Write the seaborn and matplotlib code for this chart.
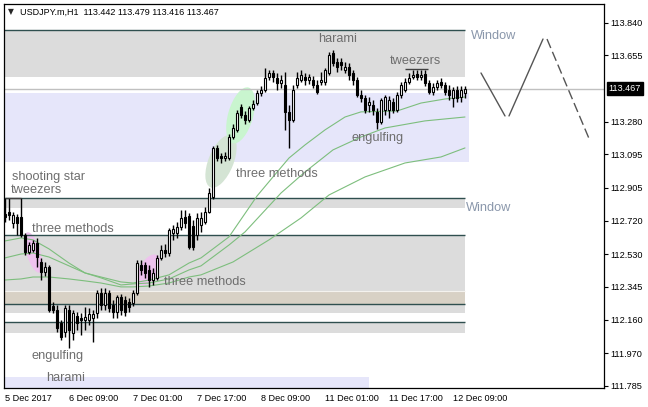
import numpy as np
import matplotlib
matplotlib.use("Agg")
import matplotlib.pyplot as plt
import seaborn as sns
from matplotlib.patches import Ellipse, Rectangle
from matplotlib.transforms import IdentityTransform, blended_transform_factory

# ---------------- data ----------------
opens = [
112.758, 112.769, 112.707, 112.741, 112.741, 112.639, 112.543, 112.554, 112.594, 112.486,
112.430, 112.458, 112.237, 112.215, 112.141, 112.090, 112.215, 112.085, 112.181, 112.169,
112.158, 112.158, 112.169, 112.198, 112.311, 112.243, 112.311, 112.243, 112.203, 112.288,
112.271, 112.260, 112.254, 112.311, 112.469, 112.469, 112.441, 112.384, 112.396, 112.509,
112.554, 112.537, 112.650, 112.650, 112.684, 112.741, 112.746, 112.690, 112.639, 112.695,
112.712, 112.769, 112.854, 113.131, 113.086, 113.074, 113.074, 113.193, 113.233, 113.363,
113.318, 113.289, 113.357, 113.385, 113.442, 113.459, 113.532, 113.555, 113.527, 113.499,
113.487, 113.335, 113.289, 113.487, 113.516, 113.532, 113.516, 113.516, 113.487, 113.504,
113.504, 113.555, 113.668, 113.617, 113.617, 113.572, 113.589, 113.555, 113.516, 113.431,
113.414, 113.374, 113.374, 113.335, 113.278, 113.346, 113.346, 113.391, 113.346, 113.431,
113.459, 113.504, 113.532, 113.550, 113.532, 113.550, 113.499, 113.448, 113.476, 113.504,
113.487, 113.459, 113.414, 113.459, 113.419, 113.442]

highs = [
112.848, 112.848, 112.769, 112.758, 112.848, 112.650, 112.599, 112.611, 112.622, 112.509,
112.486, 112.469, 112.260, 112.243, 112.158, 112.243, 112.243, 112.215, 112.203, 112.198,
112.232, 112.226, 112.215, 112.328, 112.339, 112.339, 112.328, 112.271, 112.300, 112.305,
112.294, 112.283, 112.328, 112.497, 112.497, 112.486, 112.469, 112.452, 112.526, 112.582,
112.588, 112.678, 112.695, 112.712, 112.780, 112.780, 112.763, 112.724, 112.763, 112.769,
112.797, 112.905, 113.142, 113.148, 113.103, 113.108, 113.210, 113.267, 113.346, 113.380,
113.340, 113.368, 113.402, 113.459, 113.482, 113.583, 113.572, 113.572, 113.555, 113.544,
113.561, 113.374, 113.487, 113.561, 113.572, 113.555, 113.550, 113.538, 113.516, 113.561,
113.583, 113.674, 113.685, 113.640, 113.640, 113.617, 113.612, 113.572, 113.532, 113.459,
113.431, 113.419, 113.402, 113.357, 113.414, 113.431, 113.425, 113.414, 113.448, 113.504,
113.527, 113.555, 113.572, 113.572, 113.572, 113.572, 113.516, 113.499, 113.516, 113.527,
113.504, 113.487, 113.476, 113.482, 113.482, 113.479]

lows = [
112.712, 112.724, 112.678, 112.639, 112.628, 112.526, 112.531, 112.543, 112.458, 112.384,
112.407, 112.203, 112.198, 112.090, 112.045, 112.062, 112.000, 112.045, 112.102, 112.073,
112.102, 112.130, 112.034, 112.169, 112.215, 112.215, 112.203, 112.169, 112.169, 112.186,
112.181, 112.203, 112.237, 112.300, 112.413, 112.396, 112.345, 112.356, 112.384, 112.497,
112.514, 112.520, 112.611, 112.622, 112.667, 112.678, 112.560, 112.554, 112.611, 112.656,
112.701, 112.763, 112.843, 113.057, 113.046, 113.057, 113.063, 113.182, 113.221, 113.301,
113.267, 113.278, 113.346, 113.374, 113.425, 113.448, 113.516, 113.504, 113.459, 113.470,
113.233, 113.131, 113.278, 113.470, 113.504, 113.487, 113.493, 113.470, 113.436, 113.487,
113.487, 113.544, 113.595, 113.561, 113.572, 113.555, 113.516, 113.487, 113.419, 113.391,
113.329, 113.335, 113.318, 113.238, 113.267, 113.318, 113.301, 113.329, 113.335, 113.414,
113.448, 113.493, 113.521, 113.516, 113.516, 113.482, 113.436, 113.431, 113.459, 113.470,
113.431, 113.402, 113.363, 113.391, 113.391, 113.416]

closes = [
112.741, 112.752, 112.752, 112.707, 112.639, 112.543, 112.582, 112.594, 112.514, 112.430,
112.458, 112.215, 112.215, 112.113, 112.062, 112.226, 112.102, 112.198, 112.141, 112.158,
112.175, 112.192, 112.192, 112.311, 112.243, 112.311, 112.226, 112.203, 112.288, 112.215,
112.203, 112.232, 112.311, 112.480, 112.441, 112.424, 112.384, 112.424, 112.509, 112.554,
112.537, 112.667, 112.673, 112.684, 112.735, 112.707, 112.571, 112.571, 112.735, 112.735,
112.769, 112.876, 113.131, 113.074, 113.074, 113.086, 113.193, 113.244, 113.329, 113.318,
113.289, 113.357, 113.380, 113.442, 113.459, 113.527, 113.555, 113.532, 113.499, 113.516,
113.335, 113.289, 113.459, 113.527, 113.544, 113.516, 113.532, 113.487, 113.448, 113.516,
113.572, 113.657, 113.612, 113.589, 113.600, 113.589, 113.544, 113.516, 113.431, 113.414,
113.346, 113.391, 113.346, 113.278, 113.402, 113.419, 113.402, 113.346, 113.431, 113.487,
113.504, 113.527, 113.544, 113.532, 113.544, 113.499, 113.448, 113.476, 113.499, 113.487,
113.448, 113.431, 113.459, 113.414, 113.459, 113.467]

# three moving averages, sampled at bar indices
ma1_bars = [0, 4, 7, 11, 16, 20, 24, 29, 32, 36, 41, 46, 49, 56, 63, 67, 71, 75, 80, 85, 89, 98, 104, 110, 115]
ma1_vals = [112.605, 112.622, 112.611, 112.560, 112.480, 112.424, 112.401, 112.373, 112.367, 112.384,
            112.413, 112.480, 112.509, 112.628, 112.859, 112.967, 113.074, 113.148, 113.233, 113.306,
            113.335, 113.340, 113.385, 113.408, 113.419]
ma2_bars = [0, 4, 7, 11, 16, 20, 24, 29, 32, 36, 41, 46, 49, 56, 60, 69, 75, 82, 89, 95, 105, 115]
ma2_vals = [112.509, 112.531, 112.537, 112.514, 112.464, 112.424, 112.396, 112.356, 112.362, 112.367,
            112.390, 112.441, 112.464, 112.582, 112.656, 112.876, 112.995, 113.120, 113.193, 113.244,
            113.284, 113.306]
ma3_bars = [0, 4, 7, 11, 16, 20, 24, 29, 32, 36, 41, 46, 49, 57, 66, 74, 81, 90, 100, 109, 115]
ma3_vals = [112.384, 112.390, 112.401, 112.401, 112.390, 112.379, 112.367, 112.345, 112.345, 112.350,
            112.367, 112.401, 112.413, 112.486, 112.611, 112.735, 112.865, 112.967, 113.046, 113.080,
            113.131]

# projection zigzag (bar, price)
zz_solid_bars = [119, 125, None, 126, 134.5]
zz_solid_vals = [113.555, 113.312, None, 113.312, 113.747]
zz_dash_bars = [135.5, 146.25]
zz_dash_vals = [113.747, 113.171]

tick_bars = [0, 16, 32, 48, 64, 80, 96, 112]
tick_labels = ["5 Dec 2017", "6 Dec 09:00", "7 Dec 01:00", "7 Dec 17:00",
               "8 Dec 09:00", "11 Dec 01:00", "11 Dec 17:00", "12 Dec 09:00"]
price_ticks = [111.785, 111.970, 112.160, 112.345, 112.530, 112.720, 112.905,
               113.095, 113.280, 113.655, 113.840]
price_tick_labels = ["111.785", "111.970", "112.160", "112.345", "112.530", "112.720",
                     "112.905", "113.095", "113.280", "113.655", "113.840"]
last_price = 113.467

# zones: (bar_from, bar_to, price_low, price_high, colour)
zones = [
    (-0.25, 115, 113.532, 113.793, "#DCDCDC"),
    (-0.25, 116, 113.052, 113.442, "#E6E6FA"),
    (-0.25, 115, 112.792, 112.848, "#DCDCDC"),
    (-0.25, 115, 112.322, 112.639, "#DCDCDC"),
    (-0.25, 115, 112.249, 112.322, "#D8D1C5"),
    (-0.25, 115, 112.198, 112.249, "#DCDCDC"),
    (-0.25, 115, 112.085, 112.147, "#DCDCDC"),
    (-0.25, 91, 111.700, 111.836, "#E6E6FA"),
]
level_lines = [113.798, 112.848, 112.639, 112.249, 112.147]

# ellipses: (bar, price, width px, height px, angle deg, colour)
ellipses = [
    (54.0, 113.055, 56, 25, 68, "#D4E4D4"),
    (58.9, 113.315, 58, 25, 74, "#C9F5CF"),
    (7.1, 112.540, 42, 14, -73, "#EEC2EE"),
    (35.9, 112.441, 34, 18, 61, "#EEC2EE"),
]

# pattern labels: (bar, price baseline, text, colour)
labels = [
    (78.25, 113.733, "harami", "#6E6E6E"),
    (96.25, 113.603, "tweezers", "#6E6E6E"),
    (116.5, 113.745, "Window", "#8A97AB"),
    (115.25, 112.772, "Window", "#8A97AB"),
    (86.75, 113.168, "engulfing", "#6E6E6E"),
    (57.75, 112.967, "three methods", "#6E6E6E"),
    (1.75, 112.947, "shooting star", "#6E6E6E"),
    (1.5, 112.874, "tweezers", "#6E6E6E"),
    (6.75, 112.653, "three methods", "#6E6E6E"),
    (39.75, 112.353, "three methods", "#6E6E6E"),
    (6.75, 111.935, "engulfing", "#6E6E6E"),
    (10.25, 111.810, "harami", "#6E6E6E"),
]
tweezer_marks = [(0, 4, 112.850), (100, 105.75, 113.576)]

# ---------------- drawing ----------------
sns.set_style("white")
plt.rcParams['font.family'] = ['Liberation Sans', 'DejaVu Sans']

fig = plt.figure(figsize=(6.48, 4.07), dpi=100)
ax = fig.add_axes([4 / 648, 19.5 / 407, 600 / 648, 384 / 407])
ax.set_xlim(-0.25, 149.75)
ax.set_ylim(111.776, 113.948)

for x0, x1, lo, hi, col in zones:
    ax.add_patch(Rectangle((x0, lo), x1 - x0, hi - lo, facecolor=col, edgecolor="none", zorder=0.5))
ax.hlines([112.322], -0.25, 115, color="#F4F2EE", lw=0.8, zorder=0.6)

for b, p, w, h, ang, col in ellipses:
    cx, cy = ax.transData.transform((b, p))
    ax.add_patch(Ellipse((cx, cy), w, h, angle=ang, facecolor=col, edgecolor="none",
                         transform=IdentityTransform(), zorder=0.8))

ax.hlines(level_lines, -0.25, 115, color="#2F4F4F", lw=1.0, zorder=1)
ax.axhline(last_price, color="#C0C0C0", lw=1.0, zorder=1.2)

ma_col = "#7DBE7D"
for bx, vals in [(ma1_bars, ma1_vals), (ma2_bars, ma2_vals), (ma3_bars, ma3_vals)]:
    sns.lineplot(x=bx, y=vals, ax=ax, color=ma_col, lw=0.8, zorder=1.5, legend=False)

bars = np.arange(len(opens))
o = np.array(opens); c = np.array(closes)
ax.vlines(bars, lows, highs, color="black", lw=1.0, zorder=2)
body_cols = ["white" if cc >= oo else "black" for oo, cc in zip(o, c)]
ax.bar(bars, c - o, bottom=o, width=0.62, color=body_cols, edgecolor="black",
       linewidth=0.8, zorder=3)

for x0, x1, p in tweezer_marks:
    ax.hlines(p, x0, x1, color="#404040", lw=1.0, zorder=3.5)

ax.plot(zz_solid_bars, zz_solid_vals, color="#555555", lw=1.0, zorder=2)
ax.plot(zz_dash_bars, zz_dash_vals, color="#555555", lw=1.0, ls=(0, (7, 3)), zorder=2)

for b, p, t, col in labels:
    ax.text(b, p, t, color=col, fontsize=9.2, ha="left", va="baseline", zorder=4)

# axes styling
for s in ax.spines.values():
    s.set_color("black")
    s.set_linewidth(0.9)
ax.yaxis.tick_right()
ax.set_yticks(price_ticks, price_tick_labels)
ax.tick_params(axis="y", direction="out", length=2.9, width=0.8, pad=2, labelsize=6.6,
               colors="black", left=False, right=True)
ax.set_xticks(tick_bars, tick_labels)
ax.tick_params(axis="x", direction="out", length=2.9, width=0.8, pad=1.5, labelsize=6.6,
               colors="black")
for lab in ax.get_xticklabels():
    lab.set_ha("left")
for lab in ax.get_yticklabels():
    lab.set_ha("left")
ax.grid(False)

trans = blended_transform_factory(ax.transAxes, ax.transData)
ax.text(1.0075, last_price, "113.467", transform=trans, color="white", fontsize=6.6,
        ha="left", va="center", clip_on=False, zorder=5,
        bbox=dict(boxstyle="square,pad=0.18", facecolor="black", edgecolor="black"))

fig.text(8 / 648, 1 - 12 / 407, "\u25bc", fontsize=5.5, va="center", ha="left",
         family=["DejaVu Sans"])
fig.text(20 / 648, 1 - 12 / 407, "USDJPY.m,H1  113.442 113.479 113.416 113.467",
         fontsize=6.5, va="center", ha="left", color="black")

fig.savefig("out.png", dpi=100)
